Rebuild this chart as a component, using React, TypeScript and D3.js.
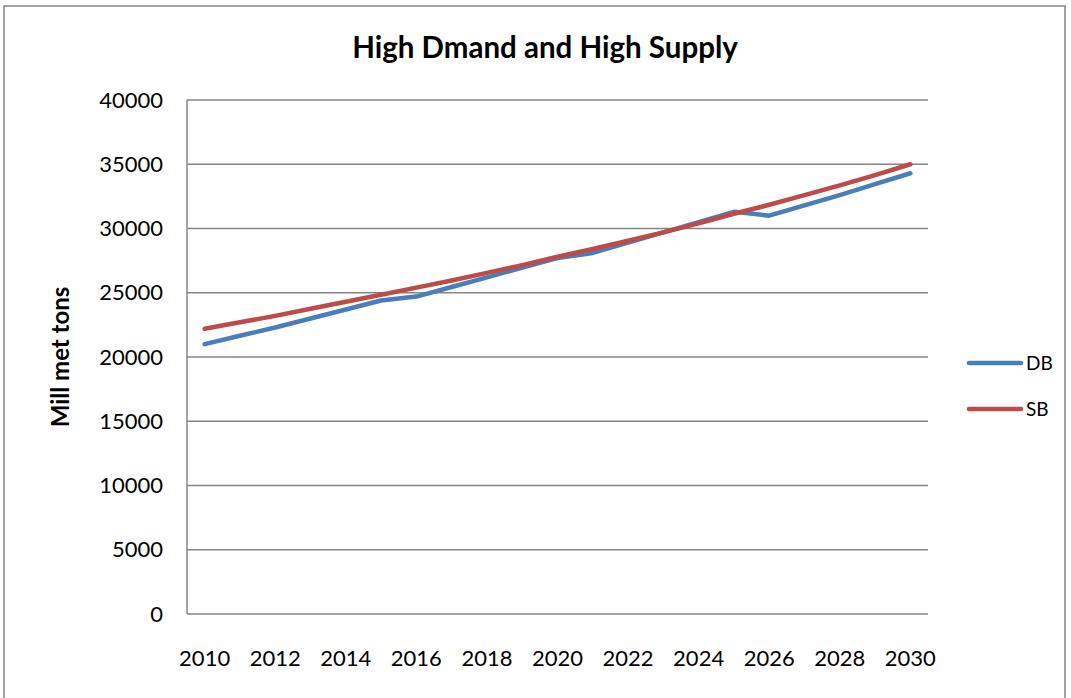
import React, { useEffect, useRef } from 'react';
import * as d3 from 'd3';

const years = d3.range(2010, 2031).map(String);
const tickYears = ['2010', '2012', '2014', '2016', '2018', '2020', '2022', '2024', '2026', '2028', '2030'];
const yTicks = [0, 5000, 10000, 15000, 20000, 25000, 30000, 35000, 40000];

const dbValues = [21000, 21650, 22300, 23000, 23700, 24400, 24700, 25450, 26200, 26950, 27700,
  28100, 28900, 29700, 30500, 31300, 31000, 31800, 32600, 33450, 34300];
const sbValues = [22200, 22700, 23200, 23750, 24300, 24850, 25400, 25950, 26550, 27150, 27800,
  28400, 29050, 29700, 30400, 31150, 31850, 32600, 33350, 34150, 35000];

const seriesList = [
  { name: 'DB', values: dbValues, color: '#4a7ebb' },
  { name: 'SB', values: sbValues, color: '#be4b48' },
];

const W = 1071;
const H = 698;
const font = 'Lato, "Open Sans", sans-serif';

const App: React.FC = () => {
  const ref = useRef<SVGSVGElement | null>(null);

  useEffect(() => {
    if (!ref.current) return;
    const svg = d3.select(ref.current);
    svg.selectAll('*').remove();

    const plot = { left: 187, right: 928, top: 100, bottom: 614 };

    // outer frame
    svg.append('rect')
      .attr('x', 4).attr('y', 6)
      .attr('width', 1061).attr('height', 720)
      .attr('fill', 'white')
      .attr('stroke', '#868686').attr('stroke-width', 1.5);

    const x = d3.scaleBand().domain(years).range([plot.left, plot.right]);
    const y = d3.scaleLinear().domain([0, 40000]).range([plot.bottom, plot.top]);

    // gridlines
    svg.append('g')
      .selectAll('line')
      .data(yTicks)
      .enter()
      .append('line')
      .attr('x1', plot.left).attr('x2', plot.right)
      .attr('y1', d => y(d)).attr('y2', d => y(d))
      .attr('stroke', '#868686').attr('stroke-width', 1.5);

    // left axis line
    svg.append('line')
      .attr('x1', plot.left).attr('x2', plot.left)
      .attr('y1', plot.top).attr('y2', plot.bottom)
      .attr('stroke', '#868686').attr('stroke-width', 1.5);

    // y tick labels
    svg.append('g')
      .selectAll('text')
      .data(yTicks)
      .enter()
      .append('text')
      .attr('x', 163)
      .attr('y', d => y(d))
      .attr('dy', '0.35em')
      .attr('text-anchor', 'end')
      .style('font-family', font)
      .style('font-size', '22px')
      .text(d => String(d));

    // x tick labels
    svg.append('g')
      .selectAll('text')
      .data(tickYears)
      .enter()
      .append('text')
      .attr('x', d => (x(d) as number) + x.bandwidth() / 2)
      .attr('y', 666)
      .attr('text-anchor', 'middle')
      .style('font-family', font)
      .style('font-size', '22px')
      .text(d => d);

    // lines
    const line = d3.line<number>()
      .x((_, i) => (x(years[i]) as number) + x.bandwidth() / 2)
      .y(d => y(d));

    seriesList.forEach(s => {
      svg.append('path')
        .datum(s.values)
        .attr('d', line)
        .attr('fill', 'none')
        .attr('stroke', s.color)
        .attr('stroke-width', 4.5)
        .attr('stroke-linecap', 'round')
        .attr('stroke-linejoin', 'round');
    });

    // title
    svg.append('text')
      .attr('x', 545).attr('y', 58)
      .attr('text-anchor', 'middle')
      .style('font-family', font)
      .style('font-size', '29.5px')
      .style('font-weight', 'bold')
      .text('High Dmand and High Supply');

    // y axis title
    svg.append('text')
      .attr('transform', 'translate(69,357) rotate(-90)')
      .attr('text-anchor', 'middle')
      .style('font-family', font)
      .style('font-size', '24px')
      .style('font-weight', 'bold')
      .text('Mill met tons');

    // legend
    const legend = svg.append('g');
    seriesList.forEach((s, i) => {
      const ly = 363 + i * 46;
      legend.append('line')
        .attr('x1', 969).attr('x2', 1021)
        .attr('y1', ly).attr('y2', ly)
        .attr('stroke', s.color).attr('stroke-width', 4.5)
        .attr('stroke-linecap', 'round');
      legend.append('text')
        .attr('x', 1026).attr('y', ly)
        .attr('dy', '0.35em')
        .style('font-family', font)
        .style('font-size', '19px')
        .text(s.name);
    });
  }, []);

  return (
    <div style={{ position: 'absolute', left: 0, top: 0 }}>
      <svg ref={ref} width={W} height={H} />
    </div>
  );
};

export default App;
